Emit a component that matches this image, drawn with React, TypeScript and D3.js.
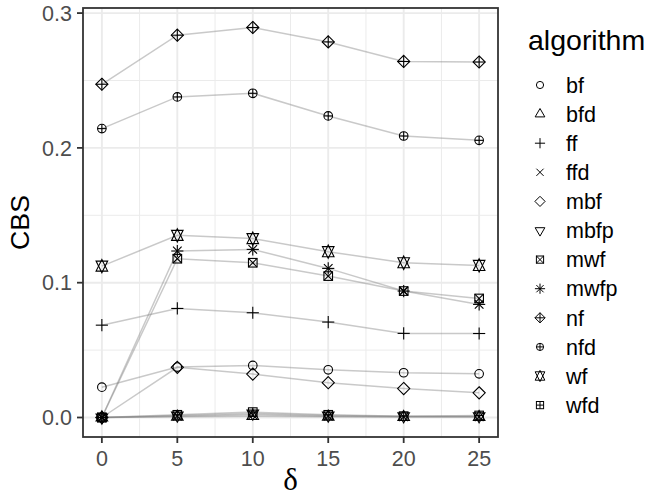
import React from "react";
import * as d3 from "d3";

const deltas = [0, 5, 10, 15, 20, 25];
const algorithms = ["bf", "bfd", "ff", "ffd", "mbf", "mbfp", "mwf", "mwfp", "nf", "nfd", "wf", "wfd"];
const shapes = [1, 2, 3, 4, 5, 6, 7, 8, 9, 10, 11, 12];

const bf = [0.0225, 0.0374, 0.0386, 0.0354, 0.0332, 0.0324];
const bfd = [0, 0.0005, 0.001, 0.0005, 0.0003, 0.0003];
const ff = [0.0685, 0.0809, 0.0777, 0.0708, 0.0624, 0.0623];
const ffd = [0, 0.001, 0.002, 0.001, 0.0005, 0.0005];
const mbf = [0, 0.0372, 0.0322, 0.0258, 0.0215, 0.0183];
const mbfp = [0, 0.0015, 0.003, 0.0015, 0.001, 0.001];
const mwf = [0, 0.1178, 0.1148, 0.1049, 0.0938, 0.0883];
const mwfp = [0, 0.1235, 0.1247, 0.1106, 0.0938, 0.0839];
const nf = [0.2472, 0.2836, 0.2893, 0.2786, 0.2641, 0.2637];
const nfd = [0.2143, 0.2378, 0.2405, 0.2237, 0.2088, 0.2056];
const wf = [0.1123, 0.1351, 0.1327, 0.123, 0.1148, 0.1128];
const wfd = [0, 0.002, 0.004, 0.002, 0.001, 0.0015];

const seriesValues = [bf, bfd, ff, ffd, mbf, mbfp, mwf, mwfp, nf, nfd, wf, wfd];

const xTicks = [0, 5, 10, 15, 20, 25];
const xMinor = [2.5, 7.5, 12.5, 17.5, 22.5];
const yTicks = [0, 0.1, 0.2, 0.3];
const yTickLabels = ["0.0", "0.1", "0.2", "0.3"];
const yMinor = [0.05, 0.15, 0.25];

const W = 652;
const H = 500;
const panel = { left: 83, right: 498, top: 8, bottom: 437 };
const FONT = "'Liberation Sans', Arial, Helvetica, sans-serif";

const TRC0 = Math.sqrt((4 * Math.PI) / (3 * Math.sqrt(3)));
const TRC1 = (TRC0 * Math.sqrt(3)) / 2;
const TRC2 = TRC0 / 2;
const S2 = Math.SQRT2;

function Marker({ pch, x, y, r, sw }: { pch: number; x: number; y: number; r: number; sw: number }) {
  const common = { fill: "none", stroke: "black", strokeWidth: sw };
  const line = (x1: number, y1: number, x2: number, y2: number, k: string) => (
    <line key={k} x1={x + x1} y1={y + y1} x2={x + x2} y2={y + y2} {...common} />
  );
  const poly = (pts: [number, number][], k: string) => (
    <polygon key={k} points={pts.map((p) => `${x + p[0]},${y + p[1]}`).join(" ")} {...common} />
  );
  const els: React.ReactNode[] = [];
  switch (pch) {
    case 1:
      els.push(<circle key="c" cx={x} cy={y} r={r} {...common} />);
      break;
    case 2:
      els.push(poly([[0, -TRC0 * r], [TRC1 * r, TRC2 * r], [-TRC1 * r, TRC2 * r]], "t"));
      break;
    case 3:
      els.push(line(-S2 * r, 0, S2 * r, 0, "h"), line(0, -S2 * r, 0, S2 * r, "v"));
      break;
    case 4:
      els.push(line(-r, -r, r, r, "a"), line(-r, r, r, -r, "b"));
      break;
    case 5:
      els.push(poly([[0, -S2 * r], [S2 * r, 0], [0, S2 * r], [-S2 * r, 0]], "d"));
      break;
    case 6:
      els.push(poly([[0, TRC0 * r], [TRC1 * r, -TRC2 * r], [-TRC1 * r, -TRC2 * r]], "t"));
      break;
    case 7:
      els.push(
        <rect key="s" x={x - r} y={y - r} width={2 * r} height={2 * r} {...common} />,
        line(-r, -r, r, r, "a"),
        line(-r, r, r, -r, "b")
      );
      break;
    case 8:
      els.push(
        line(-r, -r, r, r, "a"),
        line(-r, r, r, -r, "b"),
        line(-S2 * r, 0, S2 * r, 0, "h"),
        line(0, -S2 * r, 0, S2 * r, "v")
      );
      break;
    case 9:
      els.push(
        poly([[0, -S2 * r], [S2 * r, 0], [0, S2 * r], [-S2 * r, 0]], "d"),
        line(-S2 * r, 0, S2 * r, 0, "h"),
        line(0, -S2 * r, 0, S2 * r, "v")
      );
      break;
    case 10:
      els.push(
        <circle key="c" cx={x} cy={y} r={r} {...common} />,
        line(-r, 0, r, 0, "h"),
        line(0, -r, 0, r, "v")
      );
      break;
    case 11: {
      const rr = TRC0 * r;
      const yc = 0.5 * (TRC2 * r + rr);
      const xc = TRC1 * r;
      els.push(
        poly([[0, -rr], [xc, yc], [-xc, yc]], "u"),
        poly([[0, rr], [xc, -yc], [-xc, -yc]], "dn")
      );
      break;
    }
    case 12:
      els.push(
        <rect key="s" x={x - r} y={y - r} width={2 * r} height={2 * r} {...common} />,
        line(-r, 0, r, 0, "h"),
        line(0, -r, 0, r, "v")
      );
      break;
  }
  return <g>{els}</g>;
}

export default function App() {
  const allVals = seriesValues.flat();
  const yMin = d3.min(allVals) as number;
  const yMax = d3.max(allVals) as number;
  const yPad = (yMax - yMin) * 0.05;
  const xPad = (d3.max(deltas)! - d3.min(deltas)!) * 0.05;

  const x = d3.scaleLinear().domain([d3.min(deltas)! - xPad, d3.max(deltas)! + xPad]).range([panel.left, panel.right]);
  const y = d3.scaleLinear().domain([yMin - yPad, yMax + yPad]).range([panel.bottom, panel.top]);

  const lineGen = d3
    .line<number>()
    .x((_, i) => x(deltas[i]))
    .y((d) => y(d));

  const tickLen = 6;
  const markerR = 4.3;
  const legendR = 3.6;
  const legendX = 540;
  const legendY0 = 85;
  const legendStep = 29.1;

  return (
    <svg width={W} height={H} style={{ display: "block", position: "absolute", left: 0, top: 0 }}>
      <rect x={0} y={0} width={W} height={H} fill="white" />
      {/* grid */}
      {xMinor.map((v) => (
        <line key={"xm" + v} x1={x(v)} x2={x(v)} y1={panel.top} y2={panel.bottom} stroke="#ebebeb" strokeWidth={1} />
      ))}
      {yMinor.map((v) => (
        <line key={"ym" + v} x1={panel.left} x2={panel.right} y1={y(v)} y2={y(v)} stroke="#ebebeb" strokeWidth={1} />
      ))}
      {xTicks.map((v) => (
        <line key={"xg" + v} x1={x(v)} x2={x(v)} y1={panel.top} y2={panel.bottom} stroke="#ebebeb" strokeWidth={1.9} />
      ))}
      {yTicks.map((v) => (
        <line key={"yg" + v} x1={panel.left} x2={panel.right} y1={y(v)} y2={y(v)} stroke="#ebebeb" strokeWidth={1.9} />
      ))}
      {/* lines */}
      {seriesValues.map((vals, i) => (
        <path key={"l" + i} d={lineGen(vals) || ""} fill="none" stroke="#7f7f7f" strokeOpacity={0.42} strokeWidth={1.5} />
      ))}
      {/* points */}
      {seriesValues.map((vals, i) => (
        <g key={"p" + i}>
          {vals.map((v, j) => (
            <Marker key={j} pch={shapes[i]} x={x(deltas[j])} y={y(v)} r={markerR} sw={1.1} />
          ))}
        </g>
      ))}
      {/* panel border */}
      <rect
        x={panel.left}
        y={panel.top}
        width={panel.right - panel.left}
        height={panel.bottom - panel.top}
        fill="none"
        stroke="#333333"
        strokeWidth={1.8}
      />
      {/* y axis */}
      {yTicks.map((v, i) => (
        <g key={"yt" + v}>
          <line x1={panel.left - tickLen} x2={panel.left} y1={y(v)} y2={y(v)} stroke="#333333" strokeWidth={1.8} />
          <text
            x={panel.left - tickLen - 5}
            y={y(v)}
            dy="0.36em"
            textAnchor="end"
            fontFamily={FONT}
            fontSize={21.5}
            fill="#4d4d4d"
          >
            {yTickLabels[i]}
          </text>
        </g>
      ))}
      {/* x axis */}
      {xTicks.map((v) => (
        <g key={"xt" + v}>
          <line x1={x(v)} x2={x(v)} y1={panel.bottom} y2={panel.bottom + tickLen} stroke="#333333" strokeWidth={1.8} />
          <text x={x(v)} y={panel.bottom + tickLen + 5 + 18} textAnchor="middle" fontFamily={FONT} fontSize={21.5} fill="#4d4d4d">
            {v}
          </text>
        </g>
      ))}
      {/* axis titles */}
      <text x={(panel.left + panel.right) / 2} y={490} textAnchor="middle" fontFamily="'Liberation Serif', 'DejaVu Serif', serif" fontSize={31} fill="black">
        δ
      </text>
      <text
        transform={`translate(29, ${(panel.top + panel.bottom) / 2}) rotate(-90)`}
        textAnchor="middle"
        fontFamily={FONT}
        fontSize={26.7}
        fill="black"
      >
        CBS
      </text>
      {/* legend */}
      <text x={528} y={50} fontFamily={FONT} fontSize={28.5} fill="black">
        algorithm
      </text>
      {algorithms.map((a, i) => (
        <g key={"lg" + a}>
          <Marker pch={shapes[i]} x={legendX} y={legendY0 + i * legendStep} r={legendR} sw={1} />
          <text x={566} y={legendY0 + i * legendStep} dy="0.36em" fontFamily={FONT} fontSize={21.5} fill="black">
            {a}
          </text>
        </g>
      ))}
    </svg>
  );
}
